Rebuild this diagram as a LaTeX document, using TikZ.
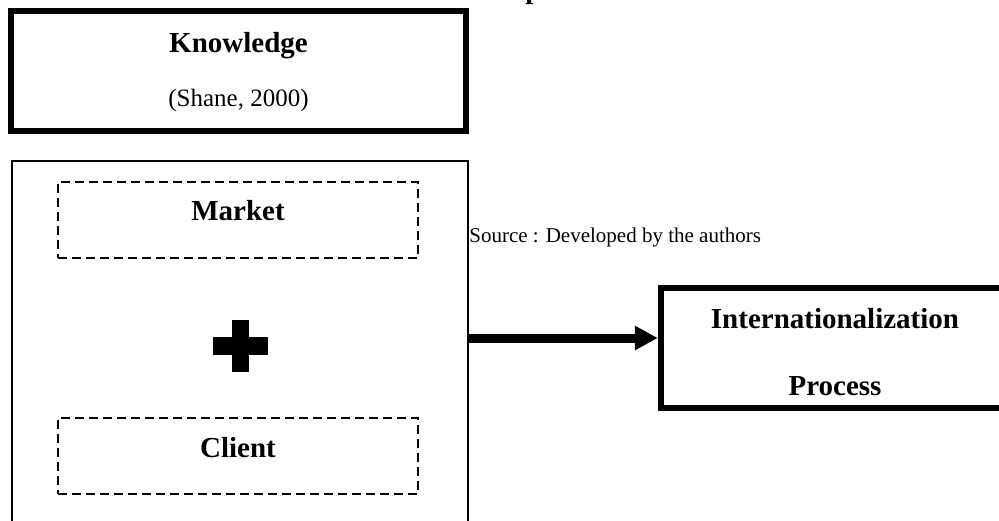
\documentclass[tikz,border=0pt]{standalone}
\usepackage{fontspec}
\setmainfont{Liberation Serif}
\usetikzlibrary{arrows.meta}

\begin{document}
\begin{tikzpicture}[x=0.5pt, y=-0.5pt,
    title/.style={font=\fontsize{14.5}{17}\selectfont\bfseries, inner sep=0pt},
    note/.style={font=\fontsize{12.5}{15}\selectfont, inner sep=0pt},
    small/.style={font=\fontsize{10.5}{13}\selectfont, inner sep=0pt},
    heavy/.style={draw, line width=3pt, inner sep=0pt},
    frame/.style={draw, line width=1pt, inner sep=0pt},
    part/.style={draw, line width=1pt, dash pattern=on 4.5pt off 2.5pt, inner sep=0pt,
        minimum width=180pt, minimum height=38pt},
    flow/.style={-{Triangle[length=11.5pt, width=11.5pt]}, line width=4.5pt}]

    \useasboundingbox (0,0) rectangle (999,520);
    \clip (0,0) rectangle (999,520);

    % caption line cut at the top
    \node[title, anchor=base west] (proc) at (525,-1.5) {process};

    \node[heavy, minimum width=227.5pt, minimum height=60pt] (know) at (238.5,71) {};
    \node[title, anchor=base] (knowT) at (238.5,52.5) {Knowledge};
    \node[note, anchor=base] (knowS) at (238.5,106) {(Shane, 2000)};

    \node[frame, minimum width=228pt, minimum height=189.5pt] (grp) at (240,350.5) {};
    \node[part] (market) at (238,220) {};
    \node[title, anchor=base] (marketT) at (238,220) {Market};
    \node[part] (client) at (238,456) {};
    \node[title, anchor=base] (clientT) at (238,457) {Client};

    % plus sign
    \fill (232,320) rectangle (249,372);
    \fill (213,337) rectangle (268,355);

    \node[small, anchor=west] (src) at (469,237) {Source : Developed by the authors};

    \node[heavy, line width=3.2pt, minimum width=189.5pt, minimum height=60pt] (intl) at (850.5,348) {};
    \node[title, anchor=base] (intlT) at (835,328) {Internationalization};
    \node[title, anchor=base] (intlP) at (835,395) {Process};

    \draw[flow] ([yshift=6.25pt]grp.east) -- ([yshift=5pt]intl.west);
\end{tikzpicture}
\end{document}
